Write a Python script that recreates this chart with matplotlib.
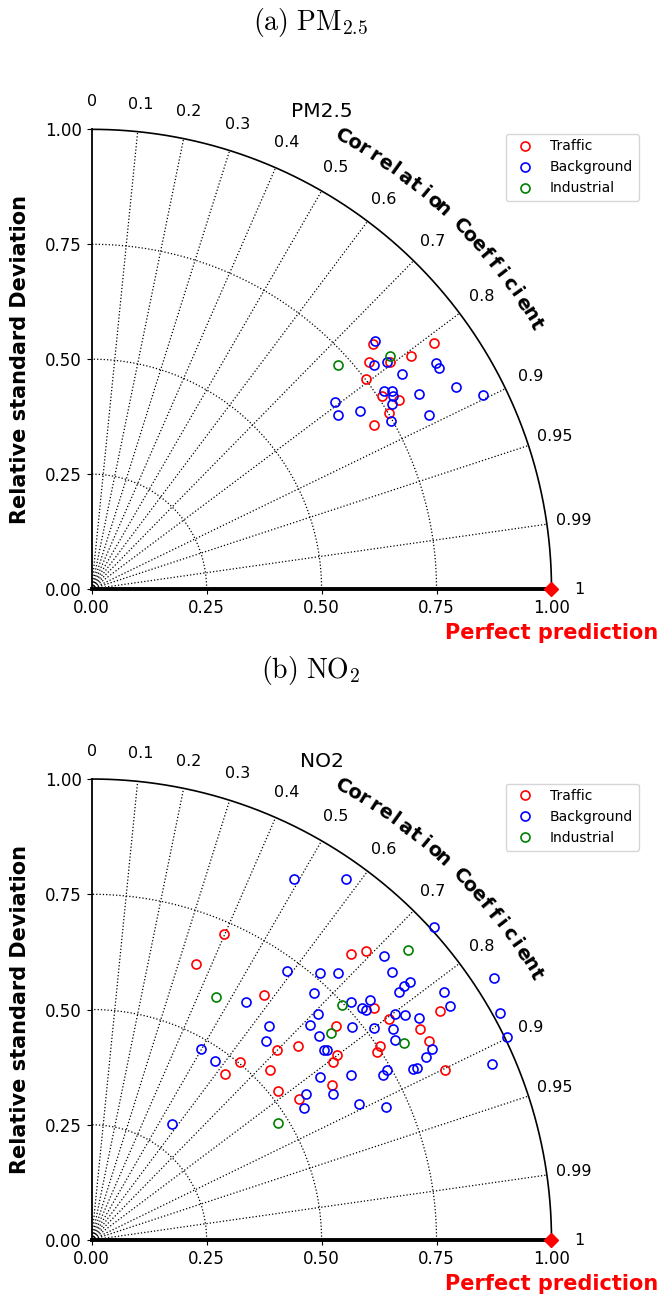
import numpy as np
import matplotlib.pyplot as plt

plt.rcParams['mathtext.fontset'] = 'cm'

# normalised standard deviation and correlation of each station
pm25_traffic_std = [0.812, 0.918, 0.780, 0.816, 0.859, 0.752, 0.758, 0.784, 0.751, 0.710]
pm25_traffic_corr = [0.754, 0.812, 0.774, 0.796, 0.808, 0.794, 0.832, 0.852, 0.861, 0.865]
pm25_background_std = [0.818, 0.785, 0.810, 0.822, 0.896, 0.895, 0.769, 0.782, 0.779,
                       0.768, 0.829, 0.906, 0.949, 0.667, 0.655, 0.701, 0.746, 0.825]
pm25_background_corr = [0.752, 0.783, 0.793, 0.822, 0.836, 0.843, 0.828, 0.834, 0.842,
                        0.851, 0.859, 0.875, 0.896, 0.792, 0.817, 0.833, 0.872, 0.888]
pm25_industrial_std = [0.724, 0.824]
pm25_industrial_corr = [0.740, 0.788]

no2_traffic_std = [0.724, 0.640, 0.838, 0.865, 0.650, 0.794, 0.805, 0.706, 0.906, 0.849,
                   0.851, 0.755, 0.742, 0.852, 0.615, 0.576, 0.667, 0.652, 0.503, 0.463,
                   0.535, 0.622, 0.517, 0.544]
no2_traffic_corr = [0.398, 0.354, 0.672, 0.689, 0.576, 0.773, 0.803, 0.753, 0.837, 0.842,
                    0.862, 0.830, 0.836, 0.902, 0.728, 0.700, 0.799, 0.805, 0.643, 0.626,
                    0.726, 0.842, 0.782, 0.827]
no2_background_std = [0.898, 0.960, 1.007, 0.885, 0.722, 0.763, 0.790, 0.874, 1.043, 0.890,
                      0.874, 0.858, 0.936, 0.722, 0.616, 0.764, 0.799, 0.773, 0.778, 0.931,
                      1.016, 0.822, 0.838, 0.695, 0.860, 0.665, 0.604, 0.730, 0.767, 0.799,
                      1.004, 0.664, 0.576, 0.789, 0.849, 0.653, 0.656, 0.478, 0.471, 0.828,
                      0.791, 0.800, 0.950, 0.609, 0.668, 0.742, 0.728, 0.613, 0.564, 0.543,
                      0.652, 0.701, 0.307]
no2_background_corr = [0.490, 0.577, 0.739, 0.719, 0.587, 0.650, 0.679, 0.747, 0.839, 0.778,
                       0.776, 0.779, 0.819, 0.669, 0.545, 0.737, 0.758, 0.760, 0.768, 0.838,
                       0.875, 0.803, 0.812, 0.709, 0.829, 0.714, 0.640, 0.775, 0.800, 0.820,
                       0.899, 0.746, 0.660, 0.836, 0.873, 0.775, 0.779, 0.496, 0.568, 0.878,
                       0.883, 0.884, 0.916, 0.815, 0.844, 0.867, 0.871, 0.857, 0.828, 0.850,
                       0.892, 0.912, 0.571]
no2_industrial_std = [0.593, 0.932, 0.746, 0.688, 0.803, 0.478]
no2_industrial_corr = [0.456, 0.738, 0.731, 0.757, 0.847, 0.846]

groups = ['Traffic', 'Background', 'Industrial']
group_colors = ['red', 'blue', 'green']
std_ticks = [0, 0.25, 0.5, 0.75, 1.0]
corr_ticks = [0, 0.1, 0.2, 0.3, 0.4, 0.5, 0.6, 0.7, 0.8, 0.9, 0.95, 0.99, 1]
corr_labels = ['0', '0.1', '0.2', '0.3', '0.4', '0.5', '0.6', '0.7', '0.8', '0.9',
               '0.95', '0.99', '1']


def taylor(ax, title, stds, corrs):
    """ Draw one quarter Taylor diagram on a plain axes """
    th = np.linspace(0, np.pi / 2, 300)

    # grid: correlation rays and std arcs
    for c in corr_ticks[1:-1]:
        a = np.arccos(c)
        ax.plot([0, np.cos(a)], [0, np.sin(a)], ls=':', lw=0.9, color='k', zorder=1)
    for r in std_ticks[1:-1]:
        ax.plot(r * np.cos(th), r * np.sin(th), ls=':', lw=0.9, color='k', zorder=1)
    ax.plot(np.cos(th), np.sin(th), color='k', lw=1.2, clip_on=False, zorder=2)

    # correlation labels round the outer arc
    for c, lab in zip(corr_ticks, corr_labels):
        a = np.arccos(c)
        ax.text(1.06 * np.cos(a), 1.06 * np.sin(a), lab, fontsize=11.5,
                ha='center', va='center')
    word = 'Correlation Coefficient'
    angs = np.linspace(np.radians(61.0), np.radians(30.8), len(word))
    for ch, a in zip(word, angs):
        ax.text(1.125 * np.cos(a), 1.125 * np.sin(a), ch, fontsize=14, fontweight='bold',
                rotation=np.degrees(a) - 90, rotation_mode='anchor',
                ha='center', va='center')

    # stations
    for s, c, lab, col in zip(stds, corrs, groups, group_colors):
        s = np.asarray(s)
        c = np.asarray(c)
        ax.plot(s * c, s * np.sqrt(1 - c ** 2), 'o', mfc='none', mec=col, ms=6.5,
                mew=1.2, ls='none', label=lab, zorder=3)

    # reference point
    ax.plot([1.0], [0.0], 'D', color='red', ms=7.5, clip_on=False, zorder=5)
    ax.text(1.0, -0.095, 'Perfect prediction', color='red', fontsize=15,
            fontweight='bold', ha='center', va='center')

    ax.set_xlim(0, 1)
    ax.set_ylim(0, 1)
    ax.set_xticks(std_ticks)
    ax.set_yticks(std_ticks)
    ax.xaxis.set_major_formatter('{x:.2f}')
    ax.yaxis.set_major_formatter('{x:.2f}')
    ax.tick_params(labelsize=12)
    ax.spines['top'].set_visible(False)
    ax.spines['right'].set_visible(False)
    ax.spines['left'].set_linewidth(1.3)
    ax.spines['bottom'].set_linewidth(2.8)
    ax.set_ylabel('Relative standard Deviation', fontsize=15, fontweight='bold')
    ax.yaxis.set_label_coords(-0.134, 0.5)
    ax.set_title(title, fontsize=14.5, pad=9)
    ax.legend(loc='upper right', bbox_to_anchor=(1.19, 0.99), borderaxespad=0,
              fontsize=10, numpoints=1)


fig = plt.figure(figsize=(6.6, 12.96), dpi=100)

ax1 = fig.add_axes([0.1389, 0.5455, 0.6967, 0.3547])
taylor(ax1, 'PM2.5',
       [pm25_traffic_std, pm25_background_std, pm25_industrial_std],
       [pm25_traffic_corr, pm25_background_corr, pm25_industrial_corr])

ax2 = fig.add_axes([0.1389, 0.0432, 0.6967, 0.3557])
taylor(ax2, 'NO2',
       [no2_traffic_std, no2_background_std, no2_industrial_std],
       [no2_traffic_corr, no2_background_corr, no2_industrial_corr])

fig.text(0.471, 0.983, r'$\mathrm{(a)\ PM_{2.5}}$', fontsize=20, ha='center', va='center')
fig.text(0.471, 0.4823, r'$\mathrm{(b)\ NO_{2}}$', fontsize=20, ha='center', va='center')

fig.savefig('out.png', dpi=100)
